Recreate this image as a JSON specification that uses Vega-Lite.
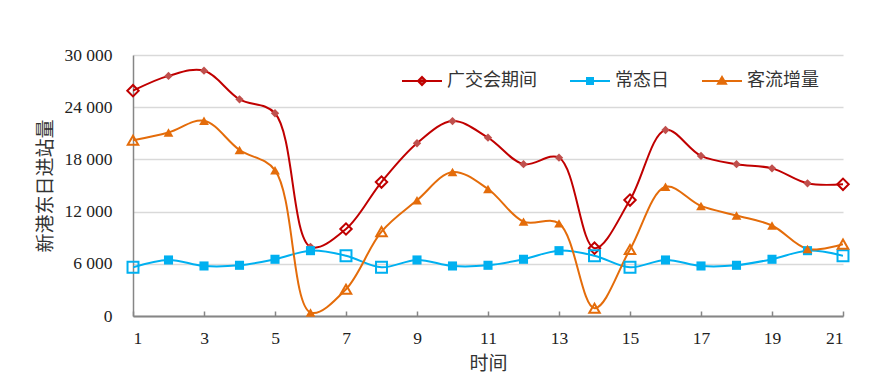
{
  "$schema": "https://vega.github.io/schema/vega-lite/v6.json",
  "width": 710,
  "height": 261,
  "autosize": {"type": "none"},
  "padding": {"left": 133, "top": 55, "right": 43, "bottom": 71},
  "background": "white",
  "config": {
    "view": {"stroke": null},
    "axis": {"labelFont": "Liberation Serif", "labelFontSize": 17.5, "labelColor": "#222", "titleFont": "Noto Sans CJK SC", "titleFontSize": 19, "titleFontWeight": "normal", "titleColor": "#333"}
  },
  "data": {"values": [
    {"t": 1, "广交会期间": 25900, "常态日": 5600, "客流增量": 20200},
    {"t": 2, "广交会期间": 27600, "常态日": 6440, "客流增量": 21100},
    {"t": 3, "广交会期间": 28200, "常态日": 5750, "客流增量": 22450},
    {"t": 4, "广交会期间": 24900, "常态日": 5830, "客流增量": 19080},
    {"t": 5, "广交会期间": 23300, "常态日": 6520, "客流增量": 16750},
    {"t": 6, "广交会期间": 7950, "常态日": 7510, "客流增量": 400},
    {"t": 7, "广交会期间": 10000, "常态日": 6930, "客流增量": 3080},
    {"t": 8, "广交会期间": 15400, "常态日": 5600, "客流增量": 9700},
    {"t": 9, "广交会期间": 19850, "常态日": 6440, "客流增量": 13300},
    {"t": 10, "广交会期间": 22400, "常态日": 5750, "客流增量": 16550},
    {"t": 11, "广交会期间": 20500, "常态日": 5830, "客流增量": 14600},
    {"t": 12, "广交会期间": 17450, "常态日": 6520, "客流增量": 10850},
    {"t": 13, "广交会期间": 18200, "常态日": 7510, "客流增量": 10650},
    {"t": 14, "广交会期间": 7800, "常态日": 6930, "客流增量": 900},
    {"t": 15, "广交会期间": 13330, "常态日": 5600, "客流增量": 7650},
    {"t": 16, "广交会期间": 21380, "常态日": 6440, "客流增量": 14850},
    {"t": 17, "广交会期间": 18400, "常态日": 5750, "客流增量": 12650},
    {"t": 18, "广交会期间": 17450, "常态日": 5830, "客流增量": 11550},
    {"t": 19, "广交会期间": 16970, "常态日": 6520, "客流增量": 10400},
    {"t": 20, "广交会期间": 15250, "常态日": 7510, "客流增量": 7700},
    {"t": 21, "广交会期间": 15140, "常态日": 6930, "客流增量": 8260}
  ]},
  "transform": [
    {"fold": ["广交会期间", "常态日", "客流增量"], "as": ["series", "value"]}
  ],
  "encoding": {
    "x": {"field": "t", "type": "quantitative",
      "scale": {"domain": [1, 21], "nice": false, "zero": false},
      "axis": {"values": [1, 3, 5, 7, 9, 11, 13, 15, 17, 19, 21], "grid": false, "domainColor": "#868686", "domainWidth": 2, "tickColor": "#868686", "tickSize": -5, "tickWidth": 1.5, "labelPadding": 18, "title": "时间", "titlePadding": 8}},
    "y": {"field": "value", "type": "quantitative",
      "scale": {"domain": [0, 30000], "nice": false},
      "axis": {"values": [0, 6000, 12000, 18000, 24000, 30000], "labelExpr": "replace(format(datum.value, ','), ',', ' ')", "grid": true, "gridColor": "#D9D9D9", "gridWidth": 1.5, "domainColor": "#868686", "domainWidth": 1.5, "ticks": false, "labelPadding": 21, "title": "新港东日进站量", "titlePadding": 8}}
  },
  "layer": [
    {
      "mark": {"type": "line", "interpolate": "catmull-rom", "strokeWidth": 2, "clip": true},
      "encoding": {
        "color": {"field": "series", "type": "nominal", "scale": {"domain": ["广交会期间", "常态日", "客流增量"], "range": ["#C00000", "#00B0F0", "#E46C0A"]}, "legend": null}
      }
    },
    {
      "transform": [{"filter": "indexof([1, 7, 8, 14, 15, 21], datum.t) < 0"}],
      "mark": {"type": "point", "filled": true, "opacity": 1},
      "encoding": {
        "color": {"field": "series", "type": "nominal", "scale": {"domain": ["广交会期间", "常态日", "客流增量"], "range": ["#C0504D", "#00B0F0", "#E46C0A"]}, "legend": null},
        "shape": {"field": "series", "type": "nominal", "scale": {"domain": ["广交会期间", "常态日", "客流增量"], "range": ["diamond", "square", "triangle-up"]}, "legend": null},
        "size": {"field": "series", "type": "nominal", "scale": {"domain": ["广交会期间", "常态日", "客流增量"], "range": [70, 95, 100]}, "legend": null}
      }
    },
    {
      "transform": [{"filter": "indexof([1, 7, 8, 14, 15, 21], datum.t) >= 0"}],
      "mark": {"type": "point", "filled": false, "strokeWidth": 2, "opacity": 1, "fill": "white", "fillOpacity": 0},
      "encoding": {
        "color": {"field": "series", "type": "nominal", "scale": {"domain": ["广交会期间", "常态日", "客流增量"], "range": ["#C00000", "#00B0F0", "#E46C0A"]}, "legend": null},
        "shape": {"field": "series", "type": "nominal", "scale": {"domain": ["广交会期间", "常态日", "客流增量"], "range": ["diamond", "square", "triangle-up"]}, "legend": null},
        "size": {"field": "series", "type": "nominal", "scale": {"domain": ["广交会期间", "常态日", "客流增量"], "range": [130, 110, 140]}, "legend": null}
      }
    },
    {
      "transform": [{"filter": "false"}],
      "mark": {"type": "point", "opacity": 1, "strokeWidth": 2},
      "encoding": {
        "fill": {"field": "series", "type": "nominal", "scale": {"domain": ["广交会期间", "常态日", "客流增量"], "range": ["#C0504D", "#00B0F0", "#E46C0A"]},
          "legend": {"orient": "none", "legendX": 268, "legendY": 5, "direction": "horizontal", "title": null, "padding": 0, "symbolSize": 1600, "symbolStrokeWidth": 2, "columnPadding": 29, "labelOffset": 4, "labelFont": "Noto Sans CJK SC", "labelFontSize": 18, "labelColor": "#333"}},
        "stroke": {"field": "series", "type": "nominal", "scale": {"domain": ["广交会期间", "常态日", "客流增量"], "range": ["#C00000", "#00B0F0", "#E46C0A"]},
          "legend": {"orient": "none", "legendX": 268, "legendY": 5, "direction": "horizontal", "title": null, "padding": 0, "symbolSize": 1600, "symbolStrokeWidth": 2, "columnPadding": 29, "labelOffset": 4, "labelFont": "Noto Sans CJK SC", "labelFontSize": 18, "labelColor": "#333"}},
        "shape": {"field": "series", "type": "nominal", "scale": {"domain": ["广交会期间", "常态日", "客流增量"], "range": ["M-1,0H1M0,-0.2L0.2,0L0,0.2L-0.2,0Z", "M-1,0H1M-0.15,-0.15H0.15V0.15H-0.15Z", "M-1,0H1M0,-0.2L0.2,0.14H-0.2Z"]},
          "legend": {"orient": "none", "legendX": 268, "legendY": 5, "direction": "horizontal", "title": null, "padding": 0, "symbolSize": 1600, "symbolStrokeWidth": 2, "columnPadding": 29, "labelOffset": 4, "labelFont": "Noto Sans CJK SC", "labelFontSize": 18, "labelColor": "#333"}}
      }
    }
  ],
  "resolve": {"scale": {"color": "independent", "shape": "independent", "size": "independent", "fill": "independent", "stroke": "independent"}}
}
